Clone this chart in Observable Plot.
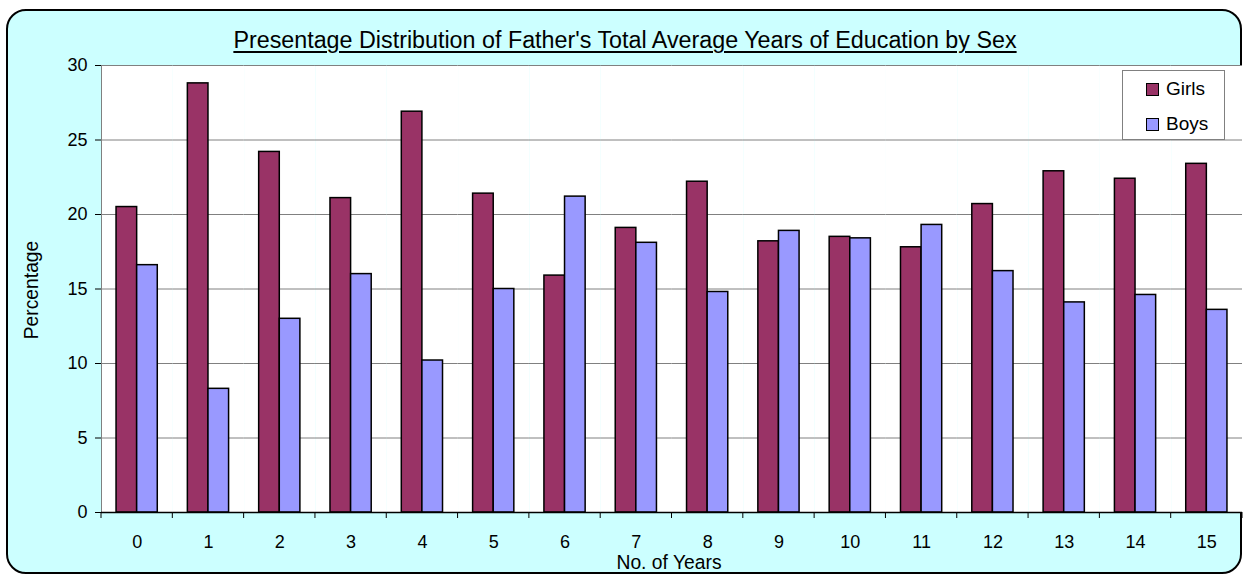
<!DOCTYPE html>
<html>
<head>
<meta charset="utf-8">
<script src="https://cdn.jsdelivr.net/npm/d3@7"></script>
<script src="https://cdn.jsdelivr.net/npm/@observablehq/plot@0.6"></script>
<style>
  html, body { margin: 0; padding: 0; background: #ffffff; }
  #wrap { position: relative; width: 1243px; height: 575px; overflow: hidden; font-family: "Liberation Sans", Arial, sans-serif; color: #000; }
  #box { position: absolute; left: 6px; top: 9px; width: 1232px; height: 561px; border: 2px solid #000; border-radius: 20px; background: #CCFFFF; }
  #title { position: absolute; left: 0; width: 1250px; top: 27px; text-align: center; font-size: 23.3px; text-decoration: underline; text-decoration-thickness: 2px; text-underline-offset: 3px; white-space: nowrap; }
  #chart { position: absolute; left: 0; top: 0; }
  #ylab { position: absolute; left: 32px; top: 290px; transform: translate(-50%, -50%) rotate(-90deg); font-size: 19.3px; white-space: nowrap; }
  #xlab { position: absolute; left: 669px; top: 553px; transform: translateX(-50%); font-size: 19.3px; line-height: 1; white-space: nowrap; }
  #legend { position: absolute; left: 1122px; top: 70px; width: 101px; height: 68px; background: #fff; border: 1px solid #808080; }
  .item { position: absolute; left: 23px; font-size: 19px; display: flex; align-items: center; height: 20px; }
  .sw { width: 11px; height: 11px; border: 1.5px solid #000; margin-right: 7px; }
</style>
</head>
<body>
<div id="wrap">
  <div id="box"></div>
  <div id="title"></div>
  <div id="chart"></div>
  <div id="ylab"></div>
  <div id="xlab"></div>
  <div id="legend"></div>
</div>
<script>
// ---- data ----
const titleText = "Presentage Distribution of Father's Total Average Years of Education by Sex";
const xLabel = "No. of Years";
const yLabel = "Percentage";
const years = [0, 1, 2, 3, 4, 5, 6, 7, 8, 9, 10, 11, 12, 13, 14, 15];
const series = ["Girls", "Boys"];
const colors = ["#993366", "#9999FF"];
const girls = [20.5, 28.8, 24.2, 21.1, 26.9, 21.4, 15.9, 19.1, 22.2, 18.2, 18.5, 17.8, 20.7, 22.9, 22.4, 23.4];
const boys  = [16.6, 8.3, 13.0, 16.0, 10.2, 15.0, 21.2, 18.1, 14.8, 18.9, 18.4, 19.3, 16.2, 14.1, 14.6, 13.6];
const yTicks = [0, 5, 10, 15, 20, 25, 30];

const rows = years.flatMap((yr, i) => [
  {year: yr, sex: series[0], value: girls[i]},
  {year: yr, sex: series[1], value: boys[i]}
]);

document.getElementById("title").textContent = titleText;
document.getElementById("xlab").textContent = xLabel;
document.getElementById("ylab").textContent = yLabel;

const legend = document.getElementById("legend");
series.forEach((s, i) => {
  const it = document.createElement("div");
  it.className = "item";
  it.style.top = (i === 0 ? 8 : 43) + "px";
  const sw = document.createElement("span");
  sw.className = "sw";
  sw.style.background = colors[i];
  const t = document.createElement("span");
  t.textContent = s;
  it.appendChild(sw); it.appendChild(t);
  legend.appendChild(it);
});

const chart = Plot.plot({
  width: 1243,
  height: 575,
  marginTop: 65,
  marginBottom: 63,
  marginLeft: 101,
  marginRight: 1,
  style: {background: "transparent", fontFamily: "'Liberation Sans', Arial, sans-serif", fontSize: "18px", color: "#000", overflow: "visible"},
  fx: {domain: years, padding: 0, round: false, axis: "bottom", tickSize: 0, tickPadding: 23, label: null},
  x: {domain: series, paddingInner: 0, paddingOuter: 0.73, round: false, axis: null},
  y: {domain: [0, 30], ticks: yTicks, tickSize: 6, tickPadding: 8, label: null, line: true},
  color: {domain: series, range: colors},
  marks: [
    Plot.frame({fill: "white", stroke: null}),
    Plot.ruleY(yTicks, {stroke: "#808080", strokeWidth: 1}),
    Plot.barY(rows, {fx: "year", x: "sex", y: "value", fill: "sex", stroke: "black", strokeWidth: 1.5}),
    Plot.ruleY([0], {stroke: "#000", strokeWidth: 1.5})
  ]
});
document.getElementById("chart").appendChild(chart);

// category boundary tick marks below the x axis, from Plot's fx scale
const fxs = chart.scale("fx");
const band = d3.scaleBand(fxs.domain, fxs.range).padding(0);
const ys = chart.scale("y");
const y0 = d3.scaleLinear(ys.domain, ys.range)(0);
const bounds = fxs.domain.map(d => band(d)).concat([band(fxs.domain[fxs.domain.length - 1]) + band.bandwidth()]);
d3.select(chart).append("g")
  .selectAll("line").data(bounds).join("line")
  .attr("x1", d => d).attr("x2", d => d)
  .attr("y1", y0).attr("y2", y0 + 6)
  .attr("stroke", "#000").attr("stroke-width", 1);
</script>
</body>
</html>
